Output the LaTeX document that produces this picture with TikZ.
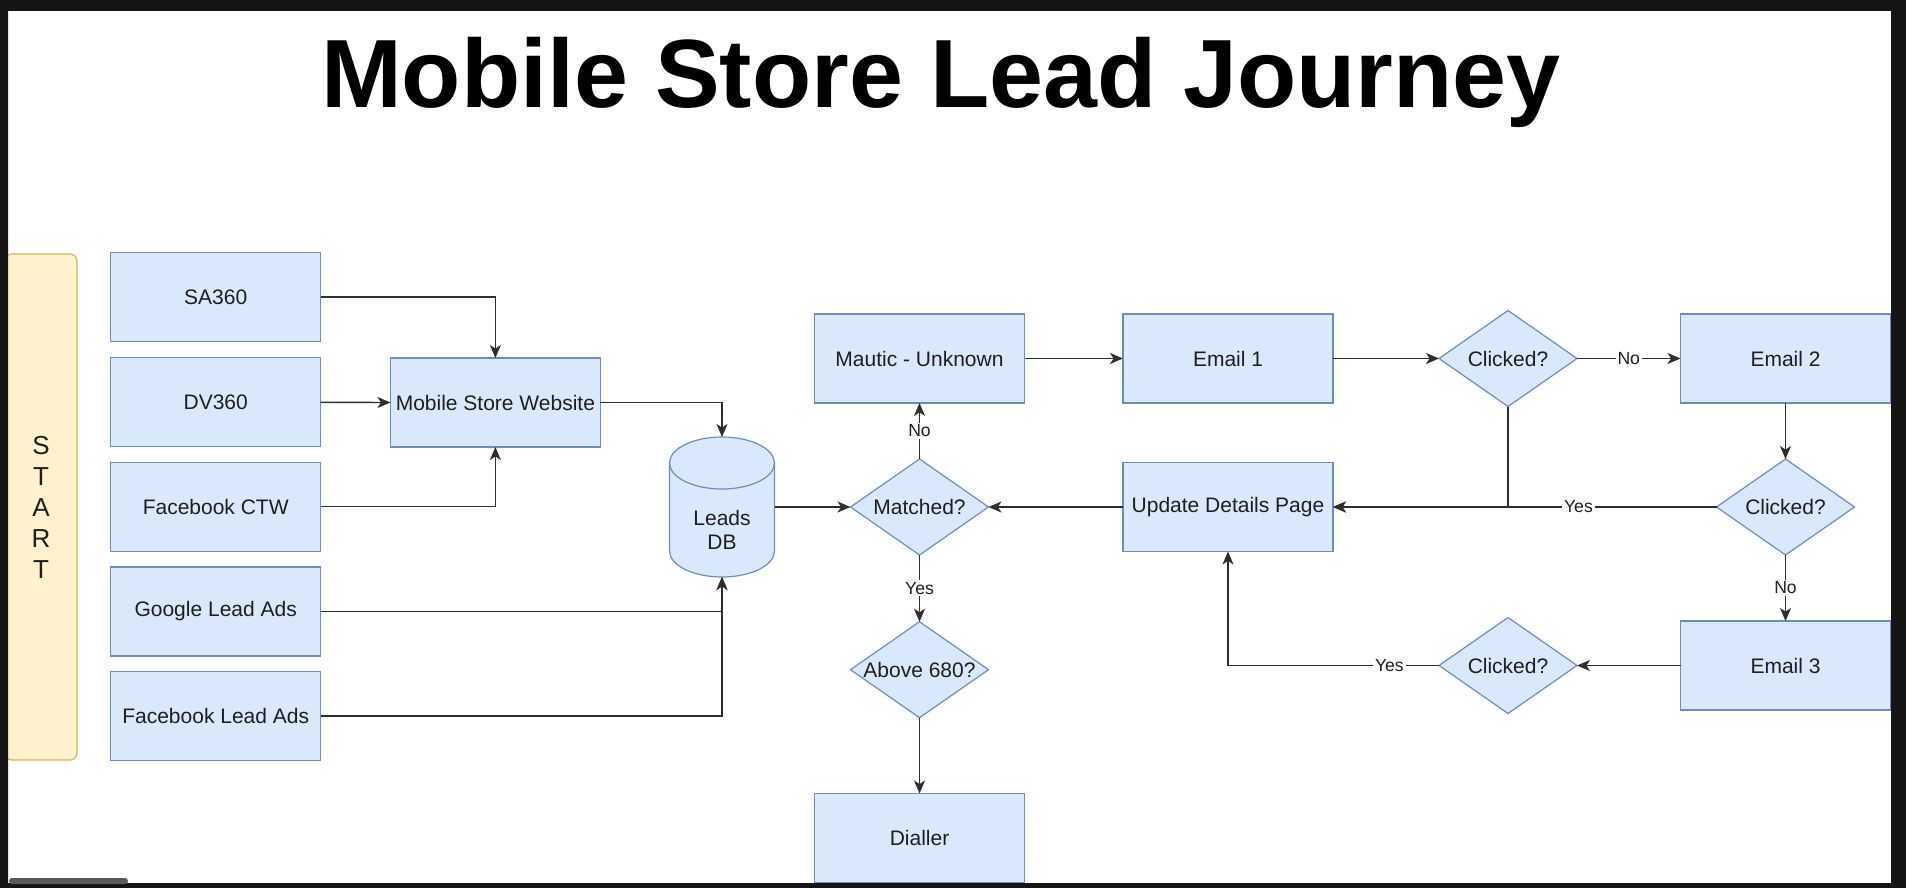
\documentclass[tikz,border=0pt]{standalone}
\usepackage{fontspec}
\setmainfont{Liberation Sans}
\usetikzlibrary{shapes.geometric, arrows.meta}
\definecolor{bfill}{HTML}{DAE8FC}
\definecolor{bline}{HTML}{6C8EBF}
\definecolor{yfill}{HTML}{FFF2CC}
\definecolor{yline}{HTML}{D6B656}
\definecolor{framec}{HTML}{151515}
\definecolor{ink}{HTML}{1E1E1E}
\definecolor{edgec}{HTML}{2E2E2E}
\definecolor{thumbc}{HTML}{5A5A5A}
\begin{document}
\begin{tikzpicture}[x=0.5pt, y=-0.5pt,
  box/.style={draw=bline, fill=bfill, line width=0.6pt, minimum width=105pt, minimum height=44.5pt, inner sep=0pt, outer sep=0pt, font=\fontsize{10.5}{12.6}\selectfont, text=ink},
  dia/.style={diamond, draw=bline, fill=bfill, line width=0.6pt, minimum width=69pt, minimum height=48pt, inner sep=0pt, outer sep=0pt},
  dtext/.style={font=\fontsize{10.5}{11.7}\selectfont, text=ink, inner sep=0pt},
  arr/.style={draw=edgec, line width=0.7pt, -{Stealth[length=6.5pt,width=5.5pt,inset=1.8pt]}},
  lbl/.style={fill=white, inner sep=1pt, font=\fontsize{8.8}{10}\selectfont, text=ink},
  startbox/.style={draw=yline, fill=yfill, line width=0.6pt, rounded corners=3.5pt, minimum width=36pt, minimum height=253pt, inner sep=0pt, align=center, font=\fontsize{13}{15.5}\selectfont, text=ink},
]
\useasboundingbox (0,0) rectangle (1906,888);
\fill[white] (0,0) rectangle (1906,888);

% title
\node[font=\fontsize{48.5}{58}\selectfont\bfseries, anchor=base, inner sep=0pt] (title) at (941,108) {Mobile Store Lead Journey};

% start
\node[startbox] (start) at (41,507) {S\\T\\A\\R\\T};

% sources
\node[box] (sa) at (215.7,297) {SA360};
\node[box] (dv) at (215.7,402.3) {DV360};
\node[box] (fbctw) at (215.7,506.7) {Facebook CTW};
\node[box] (gla) at (215.7,611.5) {Google Lead Ads};
\node[box] (fbla) at (215.7,716) {Facebook Lead Ads};
\node[box] (msw) at (495.4,402.5) {Mobile Store Website};

% leads db cylinder
\path[draw=bline, fill=bfill, line width=0.6pt] (669.5,463) -- (669.5,551) arc (180:360:26.25pt and 13pt) -- (774.5,463) arc (0:180:26.25pt and 13pt) -- cycle;
\draw[bline, line width=0.6pt] (669.5,463) arc (180:360:26.25pt and 13pt);
\node[inner sep=0pt, outer sep=0pt, minimum width=52.5pt, minimum height=70pt] (db) at (722,507) {};
\node[dtext, align=center] (dbt) at (722,530) {Leads\\DB};

% middle
\node[dia, label={[dtext]center:Matched?}] (match) at (919.5,507) {};
\node[box] (mautic) at (919.5,358.5) {Mautic - Unknown};
\node[dia, label={[dtext]center:Above 680?}] (above) at (919.5,669.7) {};
\node[box] (dial) at (919.5,838) {Dialler};
\node[box] (e1) at (1228,358.5) {Email 1};
\node[box] (upd) at (1228,507) {Update Details Page};
\node[dia, label={[dtext]center:Clicked?}] (c1) at (1508,358.5) {};
\node[dia, label={[dtext]center:Clicked?}] (c3) at (1508,665.5) {};
\node[box] (e2) at (1785.5,358.5) {Email 2};
\node[dia, label={[dtext]center:Clicked?}] (c2) at (1785.5,507) {};
\node[box] (e3) at (1785.5,665.5) {Email 3};

% connectors
\draw[arr] (sa.east) -| (msw.north);
\draw[arr] (dv.east) -- (msw.west);
\draw[arr] (fbctw.east) -| (msw.south);
\draw[arr] (msw.east) -| (db.north);
\draw[arr] (gla.east) -| (db.south);
\draw[arr] (fbla.east) -| (db.south);
\draw[arr] (db.east) -- (match.west);
\draw[arr] (match.north) -- node[lbl]{No} (mautic.south);
\draw[arr] (match.south) -- node[lbl]{Yes} (above.north);
\draw[arr] (above.south) -- (dial.north);
\draw[arr] (mautic.east) -- (e1.west);
\draw[arr] (e1.east) -- (c1.west);
\draw[arr] (c1.east) -- node[lbl]{No} (e2.west);
\draw[arr] (c1.south) |- (upd.east);
\draw[arr] (e2.south) -- (c2.north);
\draw[arr] (c2.west) -- node[lbl,pos=0.36]{Yes} (upd.east);
\draw[arr] (c2.south) -- node[lbl]{No} (e3.north);
\draw[arr] (e3.west) -- (c3.east);
\draw[arr] (c3.west) -- node[lbl,pos=0.235]{Yes} (c3.west -| upd.south) -- (upd.south);
\draw[arr] (upd.west) -- (match.east);

% screenshot frame
\fill[framec, even odd rule] (0,0) rectangle (1906,888) (8,11) rectangle (1891,883);
\fill[thumbc, rounded corners=1.5pt] (9,878) rectangle (128,884);
\end{tikzpicture}
\end{document}
